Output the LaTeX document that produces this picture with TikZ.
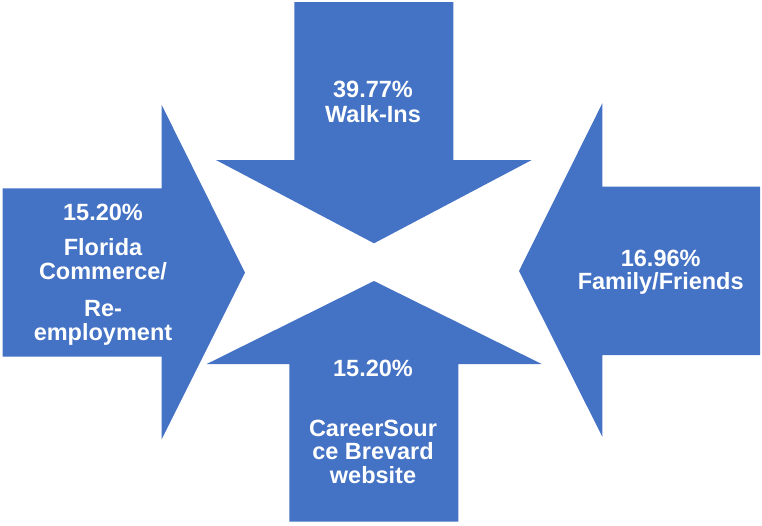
\documentclass[tikz,border=0pt]{standalone}
\usepackage{fontspec}
\setmainfont{Liberation Sans}
\definecolor{arrowblue}{HTML}{4472C4}
\tikzset{
  bigarrow/.style={fill=arrowblue, draw=none},
  lbl/.style={anchor=base, inner sep=0pt, text=white, font=\bfseries\fontsize{23.5}{23.5}\selectfont}
}
\begin{document}
\begin{tikzpicture}[x=1pt,y=-1pt]
\useasboundingbox (0,0) rectangle (762,525);
% top arrow
\path[bigarrow] (294.3,2) -- (453.3,2) -- (453.3,160) -- (531.7,160) -- (374,243.3) -- (216,160) -- (294.3,160) -- cycle;
% bottom arrow
\path[bigarrow] (289.3,521.7) -- (458.3,521.7) -- (458.3,364) -- (541.7,364) -- (374,281) -- (206.7,364) -- (289.3,364) -- cycle;
% left arrow
\path[bigarrow] (2.7,188.3) -- (161.7,188.3) -- (161.7,105) -- (245,272.7) -- (161.7,439.3) -- (161.7,356.7) -- (2.7,356.7) -- cycle;
% right arrow
\path[bigarrow] (760,186.7) -- (602.3,186.7) -- (602.3,103.3) -- (519,271) -- (602.3,436.7) -- (602.3,355) -- (760,355) -- cycle;
% top text
\node[lbl] (t1) at (373,97.3) {39.77\%};
\node[lbl] (t2) at (373,122.7) {Walk-Ins};
% left text
\node[lbl] (l1) at (103,220.7) {15.20\%};
\node[lbl] (l2) at (103,255.7) {Florida};
\node[lbl] (l3) at (103,279.2) {Commerce/};
\node[lbl] (l4) at (103,316.7) {Re-};
\node[lbl] (l5) at (103,340.2) {employment};
% right text
\node[lbl] (r1) at (660.7,266) {16.96\%};
\node[lbl] (r2) at (660.7,289.3) {Family/Friends};
% bottom text
\node[lbl] (b1) at (373,376) {15.20\%};
\node[lbl] (b2) at (373,436) {CareerSour};
\node[lbl] (b3) at (373,459.5) {ce Brevard};
\node[lbl] (b4) at (373,483) {website};
\end{tikzpicture}
\end{document}
